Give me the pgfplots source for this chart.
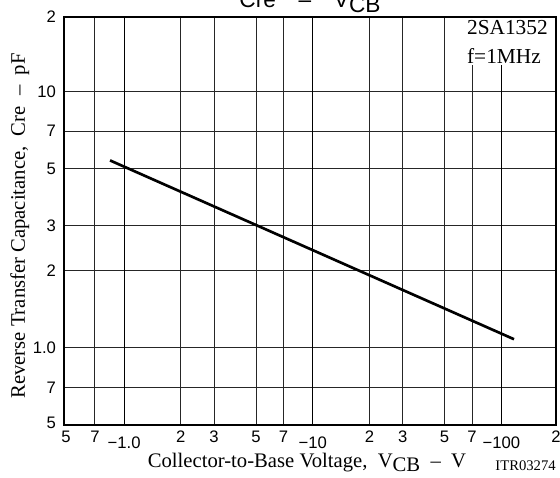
\documentclass[border=0pt]{standalone}
\usepackage{fontspec}
\setmainfont{Liberation Serif}
\setsansfont{Liberation Sans}
\usepackage{pgfplots}
\pgfplotsset{compat=1.18}
\usetikzlibrary{calc}

\begin{document}
\begin{tikzpicture}
\begin{axis}[
  name=ax,
  scale only axis,
  width=369pt, height=306pt,
  xmode=log, ymode=log,
  xmin=0.48, xmax=195, ymin=0.5, ymax=19.5,
  xtick={0.48,0.7,2,3,5,7,20,30,50,70,195},
  xticklabels={\hspace{3pt}5,7,2,3,5,7,2,3,5,7,2},
  extra x ticks={1,10,100},
  extra x tick labels={−1.0,−10,−100},
  extra x tick style={major grid style={black, line width=0.9pt},
                      xticklabel style={yshift=-4.5pt}},
  ytick={0.5,0.7,1,2,3,5,7,10,19.5},
  yticklabels={\raisebox{3pt}{5},7,1.0,2,3,5,7,10,2},
  grid=major,
  major grid style={black!85, line width=0.6pt},
  major tick length=0pt,
  tick style={draw=none},
  axis line style={black, line width=1pt},
  tick label style={font=\sffamily\fontsize{12.5}{14}\selectfont},
  yticklabel style={xshift=-2.5pt},
  xticklabel style={yshift=-1pt},
]
\addplot[black, line width=2pt] coordinates {(0.842,5.38) (116.8,1.08)};
\node[anchor=north east, fill=white, inner sep=1.5pt, align=left,
      font=\fontsize{16}{21.75}\selectfont]
  at ($(rel axis cs:1,1)+(-4.5pt,-0.6pt)$) {2SA1352\\f=1MHz};
\end{axis}
\node[anchor=base, font=\sffamily\fontsize{17}{20}\selectfont]
  at ($(ax.north)+(0,6.75pt)$) {Cre\quad–\quad V\raisebox{-3.5pt}{CB}};
\node[anchor=base, font=\fontsize{15.5}{18}\selectfont]
  at ($(ax.south)+(-2.25pt,-31.5pt)$)
  {Collector-to-Base Voltage,\ \ V\raisebox{-3pt}{CB}\ \ –\ \ V};
\node[anchor=base east, inner sep=0pt, font=\fontsize{11}{13}\selectfont]
  at ($(ax.south east)+(0,-33.75pt)$) {ITR03274};
\node[anchor=base, rotate=90, font=\fontsize{15.5}{18}\selectfont]
  at ($(ax.west)+(-29.25pt,-3.75pt)$)
  {Reverse Transfer Capacitance,\ \ Cre\ \ –\ \ pF};
\pgfresetboundingbox
\path[use as bounding box] ($(ax.south west)+(-48pt,-39pt)$) rectangle ($(ax.north east)+(3pt,12.75pt)$);
\end{tikzpicture}
\end{document}
